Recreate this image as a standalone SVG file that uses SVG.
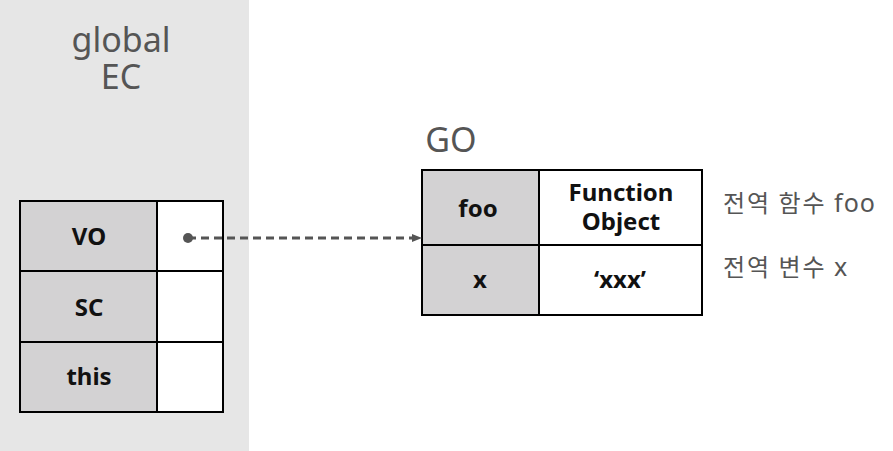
<svg xmlns="http://www.w3.org/2000/svg" width="893" height="451" viewBox="0 0 893 451">
<style>
.key{fill:#d3d2d3;stroke:#000;stroke-width:2}
.val{fill:#fff;stroke:#000;stroke-width:2}
.t{font-family:"Noto Sans","Open Sans",sans-serif;font-weight:bold;font-size:24px;fill:#111;text-anchor:middle}
.lbl{font-family:"Noto Sans","Open Sans",sans-serif;font-size:34px;fill:#555;text-anchor:middle}
.kr{font-family:"Noto Sans CJK KR","Noto Sans",sans-serif;font-size:24px;fill:#555;letter-spacing:2px}
.lat{font-family:"Noto Sans","Noto Sans CJK KR",sans-serif;letter-spacing:1px}
</style>
<defs>
<marker id="ah" markerWidth="10" markerHeight="10" refX="9" refY="5" orient="auto" markerUnits="userSpaceOnUse">
<path d="M0,1 L10,5 L0,9 Z" fill="#555"/>
</marker>
</defs>
<rect x="0" y="0" width="249" height="451" fill="#e6e6e6"/>
<g id="globalEC">
<text class="lbl"><tspan x="121" y="52">global</tspan><tspan x="121" y="89">EC</tspan></text>
<rect class="key" x="20" y="201" width="137" height="70"/>
<rect class="val" x="157" y="201" width="66" height="70"/>
<rect class="key" x="20" y="271" width="137" height="71"/>
<rect class="val" x="157" y="271" width="66" height="71"/>
<rect class="key" x="20" y="342" width="137" height="70"/>
<rect class="val" x="157" y="342" width="66" height="70"/>
<text class="t" x="89" y="245">VO</text>
<text class="t" x="89" y="316">SC</text>
<text class="t" x="89" y="385">this</text>
</g>
<g id="GO">
<text class="lbl" x="451" y="152">GO</text>
<rect class="key" x="422" y="170" width="117" height="75"/>
<rect class="val" x="539" y="170" width="163" height="75"/>
<rect class="key" x="422" y="245" width="117" height="70"/>
<rect class="val" x="539" y="245" width="163" height="70"/>
<text class="t" x="478" y="217">foo</text>
<text class="t"><tspan x="621" y="201">Function</tspan><tspan x="621" y="230">Object</tspan></text>
<text class="t" x="480" y="288">x</text>
<text class="t" x="620" y="288">‘xxx’</text>
</g>
<g id="notes">
<text class="kr" x="723" y="212">전역 함수 <tspan class="lat" font-size="25">foo</tspan></text>
<text class="kr" x="723" y="276">전역 변수 <tspan class="lat" font-size="25">x</tspan></text>
</g>
<g id="connectors">
<circle cx="188" cy="238" r="5" fill="#555"/>
<line x1="188" y1="238" x2="421" y2="238" stroke="#555" stroke-width="3" stroke-dasharray="8,5" marker-end="url(#ah)"/>
</g>
</svg>
